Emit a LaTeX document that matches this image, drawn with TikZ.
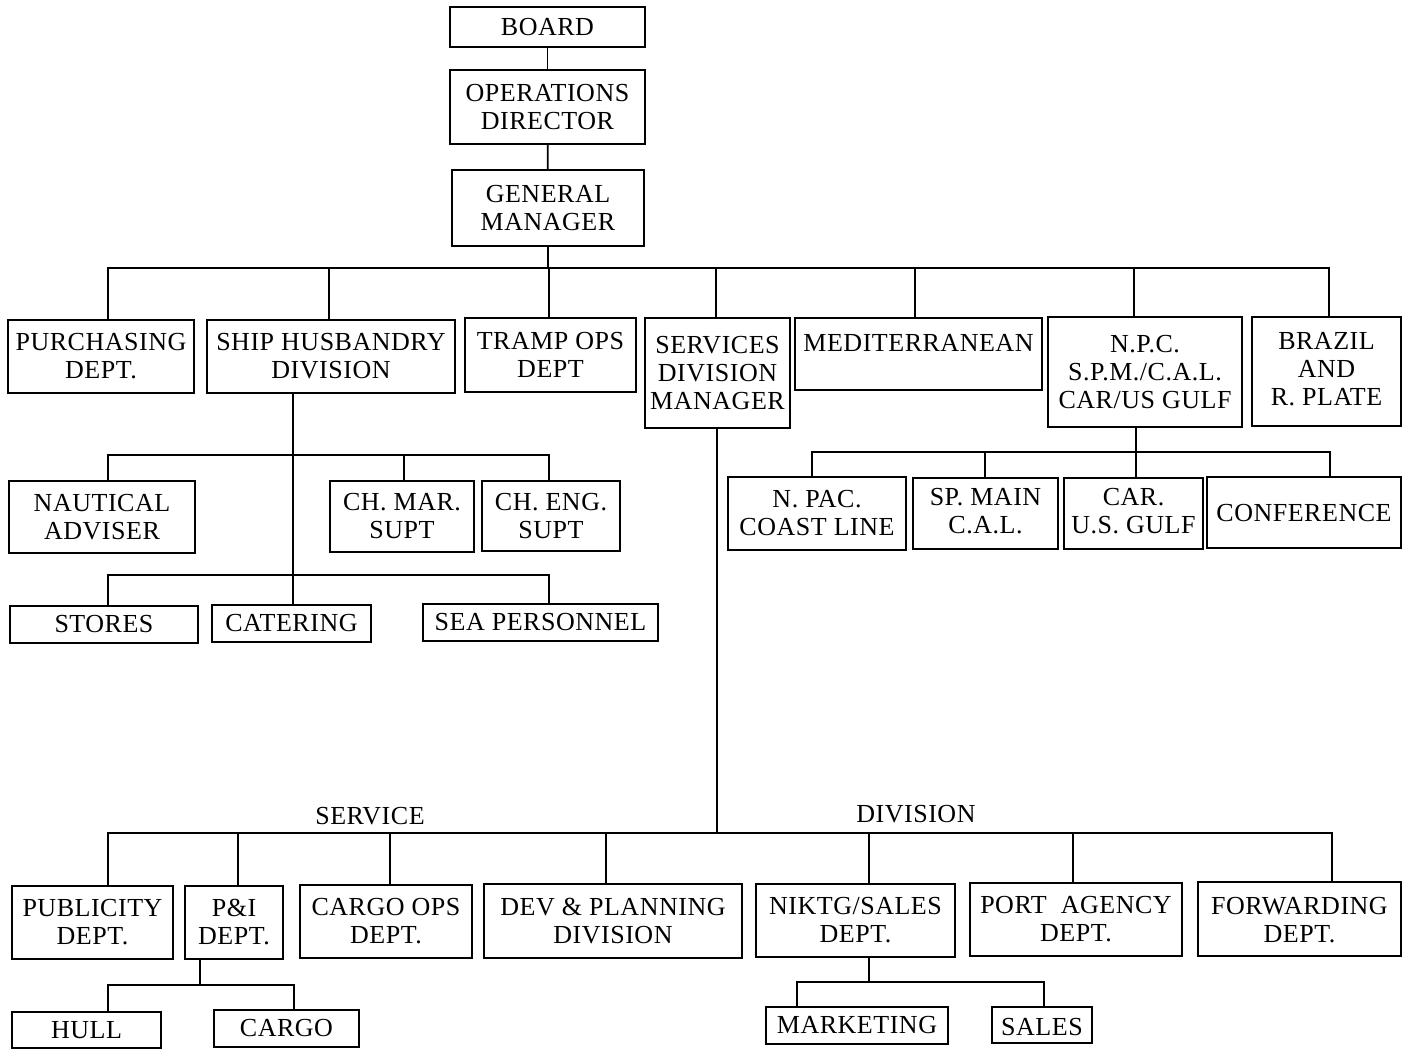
\documentclass[tikz,border=0pt]{standalone}
\usepackage{fontspec}
\setmainfont[LetterSpace=2]{Liberation Serif}
\usetikzlibrary{fit}
\tikzset{
  box/.style={draw, line width=0.9pt, inner sep=0pt},
  txt/.style={inner sep=0pt, align=center, font=\fontsize{13}{14}\selectfont},
  conn/.style={line width=0.9pt}
}
\newcommand{\orgbox}[4]{%
  \node[box, fit={#2}] (#1) {};
  \node[txt] (#1-t) at ([yshift=#4]#1.center) {#3};
}
\begin{document}
\begin{tikzpicture}[x=0.5pt, y=-0.5pt]
\useasboundingbox (0,0) rectangle (1413,1050);
% top chain
\orgbox{board}{(450,7)(645,47)}{BOARD}{0pt}
\orgbox{opdir}{(450,70)(645,144)}{OPERATIONS\\DIRECTOR}{0pt}
\orgbox{gm}{(452,170)(644,246)}{GENERAL\\MANAGER}{0pt}
% second row
\orgbox{purch}{(8,320)(194,393)}{PURCHASING\\DEPT.}{0pt}
\orgbox{ship}{(207,320)(455,393)}{SHIP HUSBANDRY\\DIVISION}{0pt}
\orgbox{tramp}{(465,318)(636,392)}{TRAMP OPS\\DEPT}{0pt}
\orgbox{serv}{(645,318)(790,428)}{SERVICES\\DIVISION\\MANAGER}{0pt}
\orgbox{med}{(795,318)(1042,390)}{MEDITERRANEAN}{5.5pt}
\orgbox{npc}{(1048,317)(1242,427)}{N.P.C.\\S.P.M./C.A.L.\\CAR/US GULF}{0pt}
\orgbox{brazil}{(1252,317)(1401,426)}{BRAZIL\\AND\\R. PLATE}{1pt}
% ship husbandry children
\orgbox{naut}{(9,481)(195,553)}{NAUTICAL\\ADVISER}{0pt}
\orgbox{chmar}{(330,481)(474,552)}{CH. MAR.\\SUPT}{0pt}
\orgbox{cheng}{(482,481)(620,551)}{CH. ENG.\\SUPT}{0pt}
\orgbox{stores}{(10,606)(198,643)}{STORES}{0pt}
\orgbox{cater}{(212,605)(371,642)}{CATERING}{0pt}
\orgbox{seap}{(423,604)(658,641)}{SEA PERSONNEL}{0pt}
% npc children
\orgbox{npac}{(728,477)(906,550)}{N. PAC.\\COAST LINE}{0pt}
\orgbox{spmain}{(913,478)(1058,549)}{SP. MAIN\\C.A.L.}{1pt}
\orgbox{carus}{(1064,478)(1203,549)}{CAR.\\U.S. GULF}{1pt}
\orgbox{conf}{(1207,477)(1401,548)}{CONFERENCE}{-0.5pt}
% service division
\node[txt] (lserv) at (370,816) {SERVICE};
\node[txt] (ldiv) at (916,814) {DIVISION};
\orgbox{publ}{(12,886)(173,959)}{PUBLICITY\\DEPT.}{0pt}
\orgbox{pandi}{(185,886)(283,959)}{P\&I\\DEPT.}{0pt}
\orgbox{cargoops}{(300,885)(472,958)}{CARGO OPS\\DEPT.}{0pt}
\orgbox{dev}{(484,884)(742,958)}{DEV \& PLANNING\\DIVISION}{0pt}
\orgbox{niktg}{(756,884)(955,957)}{NIKTG/SALES\\DEPT.}{0pt}
\orgbox{port}{(970,883)(1182,956)}{PORT\ \ AGENCY\\DEPT.}{0pt}
\orgbox{fwd}{(1198,882)(1401,956)}{FORWARDING\\DEPT.}{-0.5pt}
\orgbox{hull}{(12,1012)(161,1048)}{HULL}{0pt}
\orgbox{cargo}{(214,1010)(359,1047)}{CARGO}{0pt}
\orgbox{mkt}{(766,1007)(948,1044)}{MARKETING}{0pt}
\orgbox{sales}{(992,1007)(1092,1043)}{SALES}{-1pt}
% connectors
\draw[conn] (board) -- (opdir);
\draw[conn] (opdir) -- (gm);
\coordinate (busA) at (548,268);
\draw[conn] (gm.south) -- (busA);
\foreach \n/\x in {purch/108, ship/329, tramp/549, serv/716, med/915, npc/1134, brazil/1329}
  \draw[conn] (\n.north -| \x,0) |- (busA);
% ship husbandry
\coordinate (busB) at (293,455);
\coordinate (busC) at (293,575);
\draw[conn] (ship.south -| busB) -- (cater.north -| busB);
\foreach \n/\x in {naut/108, chmar/404, cheng/549}
  \draw[conn] (\n.north -| \x,0) |- (busB);
\foreach \n/\x in {stores/108, seap/549}
  \draw[conn] (\n.north -| \x,0) |- (busC);
% npc
\coordinate (busD) at (1136,452);
\draw[conn] (npc.south -| busD) -- (busD);
\foreach \n/\x in {npac/812, spmain/985, carus/1136, conf/1330}
  \draw[conn] (\n.north -| \x,0) |- (busD);
% services
\coordinate (busE) at (717,833);
\draw[conn] (serv.south -| busE) -- (busE);
\foreach \n/\x in {publ/108, pandi/238, cargoops/390, dev/606, niktg/869, port/1073, fwd/1332}
  \draw[conn] (\n.north -| \x,0) |- (busE);
% p&i
\coordinate (busF) at (200,985);
\draw[conn] (pandi.south -| busF) -- (busF);
\foreach \n/\x in {hull/108, cargo/294}
  \draw[conn] (\n.north -| \x,0) |- (busF);
% niktg
\coordinate (busG) at (869,982);
\draw[conn] (niktg.south -| busG) -- (busG);
\foreach \n/\x in {mkt/797, sales/1044}
  \draw[conn] (\n.north -| \x,0) |- (busG);
\end{tikzpicture}
\end{document}
